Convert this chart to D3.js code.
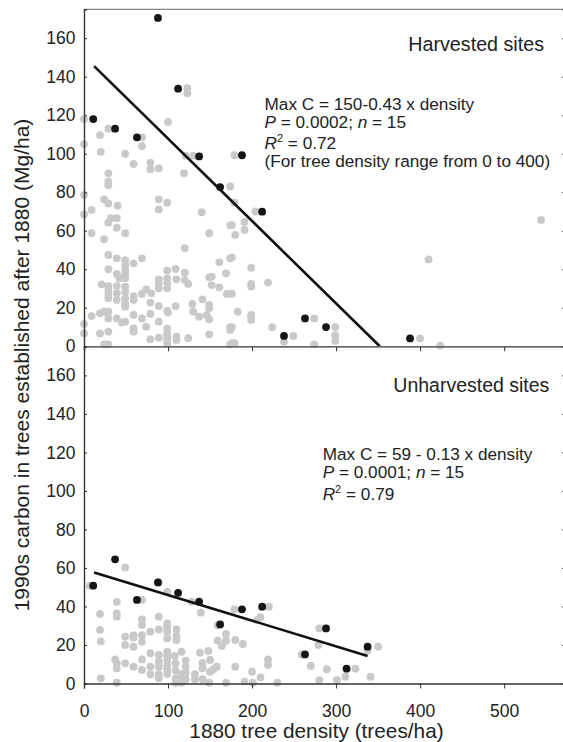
<!DOCTYPE html>
<html>
<head>
<meta charset="utf-8">
<script src="https://cdn.jsdelivr.net/npm/d3@7"></script>
<style>
  html, body { margin: 0; padding: 0; background: #fff; }
  svg { display: block; }
  text { font-family: "Liberation Sans", Arial, Helvetica, sans-serif; fill: #222; }
</style>
</head>
<body>
<svg id="chart" width="563" height="742"></svg>
<script>
// ---------------- data ----------------
const xTicks = [0, 100, 200, 300, 400, 500];
const yTicks = [0, 20, 40, 60, 80, 100, 120, 140, 160];

const harvestedGrey = [
  [0,118],[0,105],[0,78.6],[0,68.5],[0,11.6],[0,6.7],
  [9,70.8],[9,58.7],[19,109.7],[20,101],[9,15.7],
  [29,113],[49,100],[59,94.7],[79,95.4],[79,92],[89,92.4],[69,108.5],[69,104],[100,116.5],
  [89,76.3],[89,71.1],[99,74.6],[119,89.8],[121,99],[130,99],[123,134],[123,131.4],[179,99.2],
  [174,83],[179,74.6],[204,70],[191,64.6],[174,62.8],[180,57.8],[191,60.4],[140,69.6],[149,58.7],[120,51],
  [29,89.8],[29,85.5],[29,83.6],[24,76.3],[29,74.2],[40,73],[32,66.5],[29,64.2],[39,66.5],[39,61.6],
  [49,58.7],[24,55.6],[29,47.4],[39,45.7],[29,40],[49,44.8],[49,42.2],[49,39.6],[59,43.1],[69,45.7],
  [49,37.6],[39,37.6],[42,35.3],[49,35.3],[21,32.2],[29,31.3],[29,29.2],[39,31.3],[39,27.5],[29,26.7],
  [29,24.9],[39,24.1],[49,31],[49,28.4],[49,24.9],[49,22.3],[49,20.6],[59,26.1],[59,24.1],[69,27.2],
  [74,29.6],[80,27.5],[79,22.7],[89,34.8],[89,32.7],[89,30.1],[99,39.3],[99,35.3],[99,32.7],[99,30.1],
  [109,40.2],[110,34.8],[120,38.2],[124,32.4],[120,34.4],[149,35.8],[152,36.2],[152,31.8],[161,43.6],
  [161,30.6],[169,37.9],[174,45.7],[170,27.2],[199,40.8],[199,32.4],[199,31],[219,33.1],[129,22],
  [137,15.4],[130,18],[141,24.4],[149,21.5],[149,19.7],[146,16.3],[149,14],[183,18],[199,16.3],
  [199,13.7],[224,9.9],[174,9.9],[174,8.5],[149,6.2],[124,4.2],[110,5],[110,3.3],[99,9.3],[99,6.7],
  [99,5],[99,3.3],[99,1.6],[89,4.5],[79,3.6],[89,12.8],[89,20.9],[99,18.5],[100,17.5],[109,20.9],
  [79,16.8],[69,14.5],[59,16.3],[59,9.3],[59,7.6],[49,12.8],[45,12.3],[39,14.5],[29,14.5],[29,18],
  [24,18],[19,17.1],[19,6.7],[29,7.6],[24,1],[29,1],[74,10.2],[179,1.6],[174,1],[249,5.4],[238,2.4],
  [176,62.9],[176,46.2],[176,27.3],[176,10],[176,1.5],[199,15.7],[274,14.5],[274,1],[299,10],
  [299,5.7],[299,2.8],[400,4.1],[424,0.4],[544,65.6],[410,45.1]
];
const harvestedBlack = [
  [88,170.5],[112,133.8],[11,118],[37,113],[63,108.5],[137,98.6],[188,99.2],
  [162,82.7],[212,69.9],[263,14.5],[238,5.4],[288,10],[388,4.1]
];
const unharvestedGrey = [
  [7,50.8],[49,60.3],[39,42.4],[39,36.4],[39,34.7],[19,36.1],[19,27.8],[20,21.9],[20,2.7],[39,0.4],
  [49,24.3],[49,20],[59,25.1],[59,23.9],[59,19.1],[69,33.3],[69,30.4],[69,25.1],[69,21.7],[69,43.4],
  [79,26.9],[89,34.7],[89,28.1],[89,52.5],[99,47.7],[99,31.2],[99,29.2],[99,26.9],[99,23.4],[110,28.1],
  [110,24.6],[110,22.6],[116,16.5],[128,42.5],[139,36.8],[138,16],[148,16.9],[159,30.2],[159,22.2],
  [164,19.5],[169,25.7],[169,22.2],[179,38.5],[180,22.6],[189,20.5],[206,33],[210,34.4],[220,39.9],
  [37,12.5],[39,10.5],[39,7.9],[49,10.5],[59,8.7],[69,12.5],[69,7],[79,15.7],[79,8.7],[79,4.8],
  [89,14.8],[89,11.3],[89,8.7],[89,4.9],[89,2.7],[99,16.5],[99,14.3],[99,12.2],[99,9.6],[99,7],
  [99,4.9],[108,14.3],[109,10.5],[109,6.7],[109,2.7],[109,0.4],[112,2.2],[116,4.9],[121,11.9],
  [121,8.7],[121,5.6],[121,2.2],[116,0.4],[132,4.9],[132,2.2],[141,10.7],[141,7.9],[141,2.2],
  [150,12.2],[150,6.1],[154,7.4],[149,0.4],[158,8.7],[169,0.4],[180,8.7],[191,1],[200,6.1],[210,3.2],
  [201,0.4],[219,12.5],[219,9.6],[230,0.4],[259,15.1],[270,9.1],[280,1.8],[280,28.6],[279,20],
  [289,7.4],[301,1.8],[311,3.5],[323,7.7],[337.5,17.1],[350,19.1],[341,3.5]
];
const unharvestedBlack = [
  [11,50.8],[37,64.5],[63,43.4],[88,52.5],[112,47.1],[137,42.5],[162,30.7],
  [188,38.5],[212,39.9],[263,15.1],[288,28.6],[312.5,7.7],[337.5,19.1]
];
const harvestedFit = [[12,145.5],[352,0]];
const unharvestedFit = [[12,57.7],[337.5,14.3]];

const xTitle = "1880 tree density (trees/ha)";
const yTitle = "1990s carbon in trees established after 1880 (Mg/ha)";

// ---------------- drawing ----------------
const svg = d3.select("#chart");
const X0 = 84, X1 = 565.5;
const x = d3.scaleLinear().domain([0, 573]).range([X0, X1]);
const yTop = d3.scaleLinear().domain([0, 175]).range([346.3, 9.3]);
const yBot = d3.scaleLinear().domain([0, 175]).range([683.5, 346.5]);

const axisColor = "#333";
const tickFont = "17.5px";

function panel(y, grey, black, fit, showXLabels) {
  const g = svg.append("g");
  g.append("line")
    .attr("x1", X0).attr("x2", X1)
    .attr("y1", y.range()[1]).attr("y2", y.range()[1])
    .attr("stroke", "#666").attr("stroke-width", 1);
  const ra = g.append("g").attr("transform", `translate(${X1},0)`)
    .call(d3.axisRight(y).tickValues(yTicks).tickSize(-3.5).tickFormat(""));
  ra.select(".domain").attr("stroke", axisColor);
  ra.selectAll(".tick line").attr("stroke", axisColor);

  g.append("g").selectAll("circle").data(grey).join("circle")
    .attr("cx", d => x(d[0])).attr("cy", d => y(d[1]))
    .attr("r", 3.9).attr("fill", "#c9c9c9");
  g.append("line")
    .attr("x1", x(fit[0][0])).attr("y1", y(fit[0][1]))
    .attr("x2", x(fit[1][0])).attr("y2", y(fit[1][1]))
    .attr("stroke", "#111").attr("stroke-width", 2.6);
  g.append("g").selectAll("circle").data(black).join("circle")
    .attr("cx", d => x(d[0])).attr("cy", d => y(d[1]))
    .attr("r", 3.9).attr("fill", "#151515");

  const la = g.append("g").attr("transform", `translate(${X0},0)`)
    .call(d3.axisLeft(y).tickValues(yTicks).tickSize(-3).tickPadding(8.5));
  la.select(".domain").attr("stroke", axisColor).attr("stroke-width", 1.4);
  la.selectAll(".tick line").attr("stroke", axisColor);
  la.selectAll(".tick text").style("font-size", tickFont)
    .style("font-family", "'Liberation Sans', Arial, sans-serif").attr("fill", "#222");

  const ba = g.append("g").attr("transform", `translate(0,${y.range()[0]})`)
    .call(d3.axisBottom(x).tickValues(xTicks).tickSize(5).tickPadding(15.8)
      .tickFormat(showXLabels ? d3.format("d") : ""));
  ba.select(".domain").attr("stroke", axisColor).attr("stroke-width", 1.4);
  ba.selectAll(".tick line").attr("stroke", axisColor);
  ba.selectAll(".tick text").style("font-size", tickFont)
    .style("font-family", "'Liberation Sans', Arial, sans-serif").attr("fill", "#222");
  return g;
}

panel(yTop, harvestedGrey, harvestedBlack, harvestedFit, false);
panel(yBot, unharvestedGrey, unharvestedBlack, unharvestedFit, true);

svg.append("text").attr("x", 408.3).attr("y", 50.7)
  .style("font-size", "19.7px").text("Harvested sites");
svg.append("text").attr("x", 393.3).attr("y", 391.7)
  .style("font-size", "19.5px").text("Unharvested sites");

function statLines(x0, lines) {
  lines.forEach(l => {
    const t = svg.append("text").attr("x", x0).attr("y", l.y).style("font-size", "17.2px");
    l.parts.forEach(p => {
      const s = t.append("tspan").text(p.t);
      if (p.i) s.style("font-style", "italic");
      if (p.sup) s.attr("dy", -7).style("font-size", "11px");
      if (p.down) s.attr("dy", 7);
    });
  });
}
statLines(264.5, [
  {y: 110, parts: [{t: "Max C = 150-0.43 x density"}]},
  {y: 127.5, parts: [{t: "P", i: true}, {t: " = 0.0002; "}, {t: "n", i: true}, {t: " = 15"}]},
  {y: 149.3, parts: [{t: "R", i: true}, {t: "2", sup: true}, {t: " = 0.72", down: true}]},
  {y: 166.7, parts: [{t: "(For tree density range from 0 to 400)"}]}
]);
statLines(322.7, [
  {y: 460, parts: [{t: "Max C = 59 - 0.13 x density"}]},
  {y: 478.3, parts: [{t: "P", i: true}, {t: " = 0.0001; "}, {t: "n", i: true}, {t: " = 15"}]},
  {y: 500, parts: [{t: "R", i: true}, {t: "2", sup: true}, {t: " = 0.79", down: true}]}
]);

svg.append("text").attr("x", 316.5).attr("y", 737.5).attr("text-anchor", "middle")
  .style("font-size", "20.8px").text(xTitle);
svg.append("text").attr("transform", "translate(29,365) rotate(-90)")
  .attr("text-anchor", "middle").style("font-size", "21px").text(yTitle);
</script>
</body>
</html>
